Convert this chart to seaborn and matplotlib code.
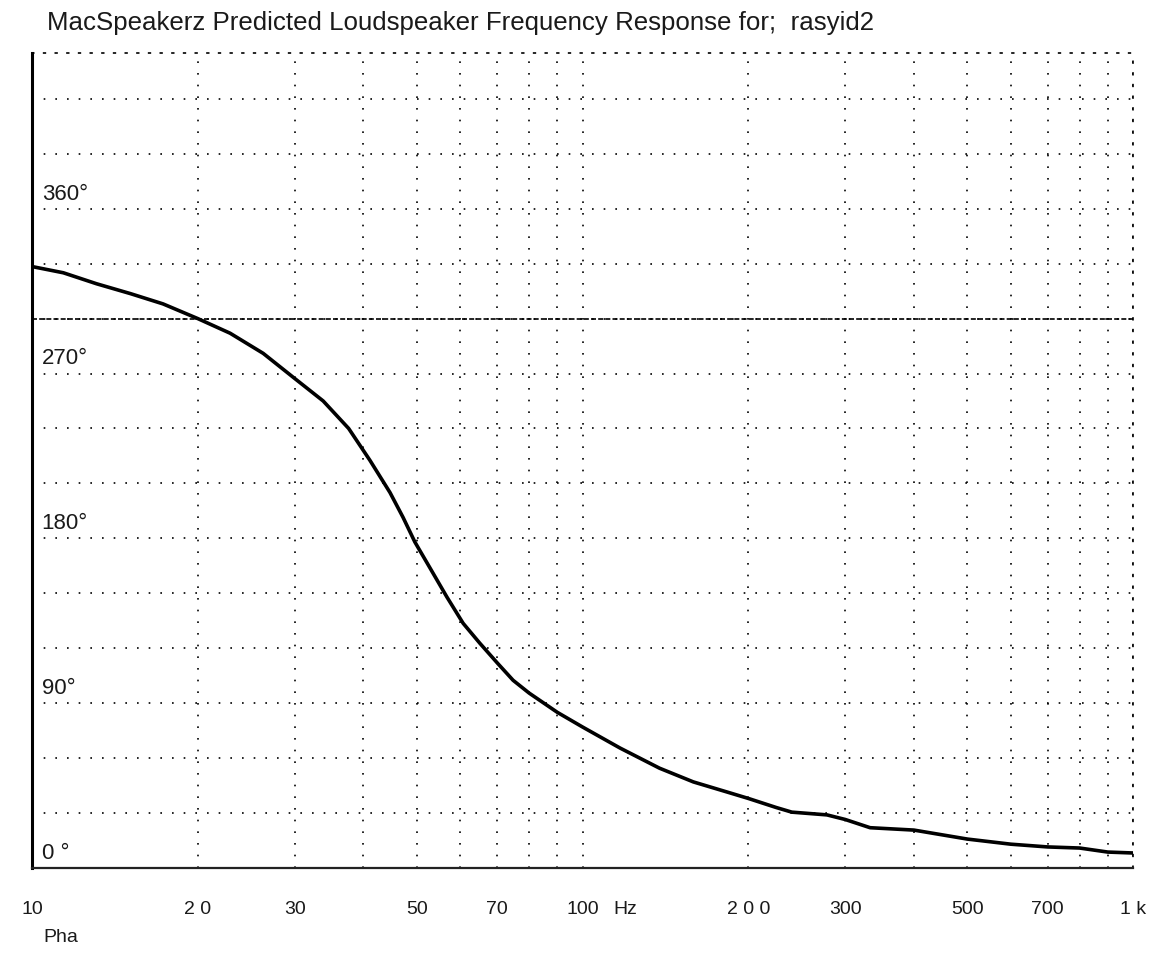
import matplotlib
matplotlib.use("Agg")
import matplotlib.pyplot as plt
import seaborn as sns
import numpy as np

# ---- data ----
freq_hz = [10, 11.4, 13.1, 15.1, 17.3, 20, 22.9, 26.3, 29.8, 33.8, 37.6, 41.1,
           44.7, 47.2, 49.6, 52.8, 56.7, 60.7, 65.1, 70, 74.8, 80, 90, 100, 117,
           138, 159, 183, 200, 225, 240, 278, 300, 333, 400, 500, 600, 700, 800,
           900, 1000]
phase_deg = [328.4, 325, 319, 313.6, 308, 300, 292, 281, 268, 255, 240, 222.6,
             205, 191.5, 178, 164, 148, 133.6, 122.7, 112, 102.5, 95.5, 85, 77,
             65.5, 54.5, 47, 41.5, 38, 33, 30.5, 29, 26.5, 22, 20.7, 15.8, 13,
             11.5, 10.9, 8.7, 8.2]

x_tick_vals = [10, 20, 30, 50, 70, 100, 200, 300, 500, 700, 1000]
x_tick_labels = ["10", "2 0", "30", "50", "70", "100", "2 0 0", "300", "500", "700", "1 k"]
x_minor_vals = [40, 60, 80, 90, 400, 600, 800, 900]
y_grid_vals = list(range(0, 421, 30))
y_label_vals = [0, 90, 180, 270, 360]
y_label_texts = ["0 °", "90°", "180°", "270°", "360°"]
ref_line = 300
title = "MacSpeakerz Predicted Loudspeaker Frequency Response for;  rasyid2"

sns.set_style("white")
plt.rcParams["font.family"] = ["Liberation Sans", "DejaVu Sans"]

fig = plt.figure(figsize=(11.54, 9.59), dpi=100)
ax = fig.add_axes([32 / 1154, 1 - 868 / 959, (1133 - 32) / 1154, (868 - 53) / 959])

dot = (0, (1, 6))
ax.set_xscale("log")
ax.set_xlim(10, 1000)
ax.set_ylim(0, 445)

ax.set_xticks(x_tick_vals)
ax.set_xticklabels(x_tick_labels)
ax.set_xticks(x_minor_vals, minor=True)
ax.xaxis.set_minor_formatter(matplotlib.ticker.NullFormatter())
ax.set_yticks(y_grid_vals)
ax.set_yticklabels([])
ax.tick_params(axis="both", which="both", length=0)
ax.tick_params(axis="x", pad=24, labelsize=14, labelcolor="#1a1a1a")

ax.grid(True, which="both", axis="x", color="black", linestyle=dot, linewidth=1.2)
ax.grid(True, which="major", axis="y", color="black", linestyle=dot, linewidth=1.2)
ax.set_axisbelow(True)

ax.axhline(ref_line, color="black", linestyle=(0, (3, 1.3)), linewidth=1.2, zorder=1)

sns.lineplot(x=freq_hz, y=phase_deg, ax=ax, color="black", linewidth=2.6, zorder=3)

for s in ["top", "right"]:
    ax.spines[s].set_linestyle(dot)
    ax.spines[s].set_linewidth(1.2)
    ax.spines[s].set_color("black")
ax.spines["left"].set_linewidth(2.2)
ax.spines["left"].set_color("black")
ax.spines["bottom"].set_linewidth(1.6)
ax.spines["bottom"].set_color("#222222")

for v, t in zip(y_label_vals, y_label_texts):
    ax.annotate(t, xy=(0, v), xycoords=("axes fraction", "data"),
                xytext=(7, 3), textcoords="offset points",
                ha="left", va="bottom", fontsize=16, color="#1a1a1a")

ax.annotate("Hz", xy=(100, 0), xycoords=("data", "axes fraction"),
            xytext=(22, -24), textcoords="offset points",
            ha="left", va="top", fontsize=14, color="#1a1a1a")

fig.text(47 / 1154, 1 - 23 / 959, title, ha="left", va="center",
         fontsize=18.6, color="#1a1a1a")
fig.text(43 / 1154, 1 - 937 / 959, "Pha", ha="left", va="center",
         fontsize=14, color="#1a1a1a")

fig.savefig("out.png", dpi=100)
